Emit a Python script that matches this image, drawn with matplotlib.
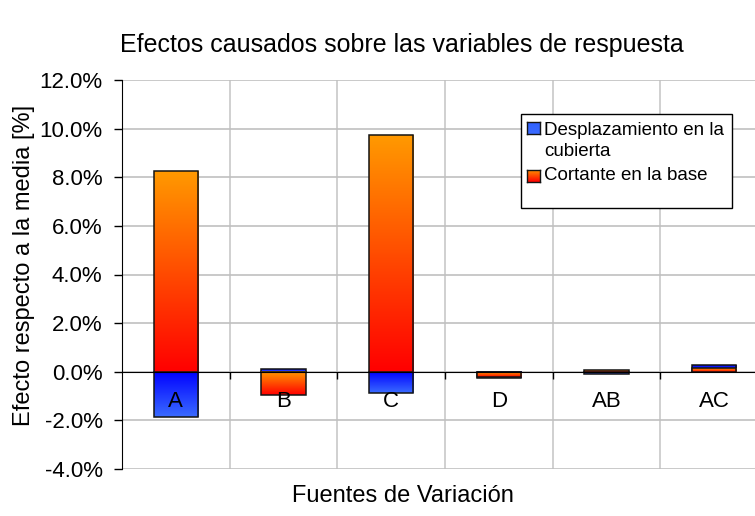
import numpy as np
import matplotlib
matplotlib.use('Agg')
from matplotlib import pyplot as plt
from matplotlib.colors import LinearSegmentedColormap
from matplotlib.patches import Rectangle

plt.rcParams['font.family'] = ['Liberation Sans', 'DejaVu Sans']

# efectos (%) de cada fuente de variacion
categorias = ['A', 'B', 'C', 'D', 'AB', 'AC']
desplazamiento = [-1.86, 0.11, -0.88, -0.27, -0.09, 0.28]
cortante = [8.24, -0.95, 9.72, -0.20, 0.07, 0.14]
nombres = ['Desplazamiento en la\ncubierta', 'Cortante en la base']
yticks = [-4, -2, 0, 2, 4, 6, 8, 10, 12]

# degradado vertical: color de arriba -> color de abajo
AZUL = ('#0000FF', '#3A6BFF')
NARANJA = ('#FF9900', '#FF0000')
W, H = 755, 516


def px(x, y):
    # pixeles (origen arriba-izquierda) a fraccion de figura
    return x / W, 1 - y / H


def barras_degradado(ax, x, vals, colores, z):
    cmap = LinearSegmentedColormap.from_list('g', list(colores))
    grad = np.linspace(0, 1, 128).reshape(-1, 1)
    bars = ax.bar(x, vals, 0.41, facecolor='none', edgecolor='#141414',
                  linewidth=1.1, zorder=z + 0.1)
    for b in bars:
        x0, y0 = b.get_x(), b.get_y()
        y1 = y0 + b.get_height()
        ax.imshow(grad, cmap=cmap, origin='upper', aspect='auto',
                  interpolation='bilinear', zorder=z,
                  extent=(x0, x0 + b.get_width(), min(y0, y1), max(y0, y1)))
    return bars


fig = plt.figure(figsize=(7.55, 5.16), dpi=100)
l, t = px(122, 80)
r, b = px(768, 469)
ax = fig.add_axes([l, b, r - l, t - b])

x = np.arange(len(categorias))
barras_degradado(ax, x, desplazamiento, AZUL, 3)
barras_degradado(ax, x, cortante, NARANJA, 4)

ax.set_xlim(-0.5, len(categorias) - 0.5)
ax.set_ylim(-4, 12)

# ejes y rejilla
for s in ['top', 'right']:
    ax.spines[s].set_visible(False)
ax.spines['left'].set_color('black')
ax.spines['bottom'].set_position(('data', 0))
ax.spines['bottom'].set_color('black')
ax.spines['bottom'].set_zorder(5)

ax.set_yticks(yticks)
ax.set_yticklabels(['%.1f%%' % v for v in yticks], fontsize=16)
ax.tick_params(axis='y', direction='out', length=6, width=1, pad=8)
ax.yaxis.grid(True, color='#C0C0C0', linewidth=1.2, zorder=0)

ax.set_xticks(x[:-1] + 0.5)
ax.set_xticklabels([])
ax.tick_params(axis='x', which='major', direction='out', length=5, width=1)
ax.xaxis.grid(True, which='major', color='#C8C8C8', linewidth=1.2, zorder=0)
ax.set_axisbelow(True)

# nombres de categoria sobre las barras, junto al eje en 0
for i, cat in enumerate(categorias):
    ax.annotate(cat, (i, 0), xytext=(0, -14), textcoords='offset points',
                ha='center', va='top', fontsize=16, zorder=10)

# titulos
fig.text(*px(402, 45), 'Efectos causados sobre las variables de respuesta',
         ha='center', va='center', fontsize=18)
fig.text(*px(24, 265), 'Efecto respecto a la media [%]', rotation=90,
         ha='center', va='center', fontsize=17)
fig.text(*px(403, 496), 'Fuentes de Variación', ha='center', va='center',
         fontsize=17)

# leyenda
lx0, ly0 = px(521, 208)
lx1, ly1 = px(732, 114)
fig.add_artist(Rectangle((lx0, ly0), lx1 - lx0, ly1 - ly0, transform=fig.transFigure,
                         facecolor='white', edgecolor='black', linewidth=1.0, zorder=10))
for nombre, colores, (sy, ty) in zip(nombres, [AZUL, NARANJA], [(122, 141), (170, 176)]):
    sx0, sy0 = px(527, sy + 12)
    sx1, sy1 = px(540, sy)
    sw = fig.add_axes([sx0, sy0, sx1 - sx0, sy1 - sy0], zorder=11)
    cmap = LinearSegmentedColormap.from_list('g', list(colores) if colores is NARANJA
                                             else ['#3060FF', '#3A6BFF'])
    sw.imshow(np.linspace(0, 1, 32).reshape(-1, 1), cmap=cmap, aspect='auto',
              interpolation='bilinear')
    sw.set_xticks([])
    sw.set_yticks([])
    for s in sw.spines.values():
        s.set_color('#141414')
        s.set_linewidth(1.0)
    fig.text(*px(544, ty), nombre, ha='left', va='center', fontsize=13.5,
             linespacing=1.3, zorder=12)

fig.savefig('out.png', dpi=100)
